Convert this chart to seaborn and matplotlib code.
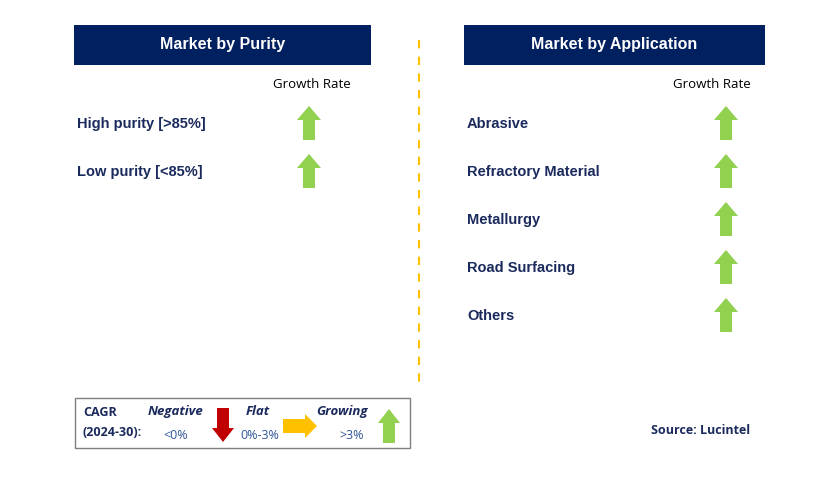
import matplotlib
matplotlib.use("Agg")
import matplotlib.pyplot as plt
import seaborn as sns
import pandas as pd
from matplotlib.patches import Polygon, Rectangle

# data
purity_labels = ["High purity [>85%]", "Low purity [<85%]"]
purity_trend = ["up", "up"]
application_labels = ["Abrasive", "Refractory Material", "Metallurgy", "Road Surfacing", "Others"]
application_trend = ["up", "up", "up", "up", "up"]
legend_names = ["Negative", "Flat", "Growing"]
legend_ranges = ["<0%", "0%-3%", ">3%"]
legend_trend = ["down", "right", "up"]

NAVY = "#002060"
TEXT_NAVY = "#1b2a5c"
GREEN = "#92D050"
RED = "#C00000"
ORANGE = "#FFC000"
COLORS = {"up": GREEN, "down": RED, "right": ORANGE}

sns.set_theme(style="white")
plt.rcParams['font.family'] = ['Liberation Sans', 'DejaVu Sans']

fig = plt.figure(figsize=(8.29, 4.94), dpi=100)
ax = fig.add_axes([0, 0, 1, 1])
ax.set_xlim(0, 829)
ax.set_ylim(494, 0)
ax.axis("off")


def arrow(ax, cx, cy, direction, length=34, width=24, shaft=12, head=14):
    # simple block arrow centred on (cx, cy)
    h = length / 2
    w = width / 2
    s = shaft / 2
    if direction == "up":
        pts = [(cx - s, cy + h), (cx - s, cy - h + head), (cx - w, cy - h + head),
               (cx, cy - h), (cx + w, cy - h + head), (cx + s, cy - h + head), (cx + s, cy + h)]
    elif direction == "down":
        pts = [(cx - s, cy - h), (cx - s, cy + h - head), (cx - w, cy + h - head),
               (cx, cy + h), (cx + w, cy + h - head), (cx + s, cy + h - head), (cx + s, cy - h)]
    else:
        pts = [(cx - h, cy - s), (cx + h - head, cy - s), (cx + h - head, cy - w),
               (cx + h, cy), (cx + h - head, cy + w), (cx + h - head, cy + s), (cx - h, cy + s)]
    ax.add_patch(Polygon(pts, closed=True, color=COLORS[direction], lw=0))


def panel(ax, x0, x1, title, labels, trends, arrow_x, growth_x):
    ax.add_patch(Rectangle((x0, 25), x1 - x0, 40, color=NAVY, lw=0))
    ax.text((x0 + x1) / 2, 45, title, color="white", fontsize=11.5, fontweight="bold",
            ha="center", va="center")
    ax.text(growth_x, 85, "Growth Rate", color="black", fontsize=9.5,
            ha="center", va="center", family=["Open Sans", "DejaVu Sans"])
    df = pd.DataFrame({"label": labels, "trend": trends})
    for i, row in df.iterrows():
        y = 124 + i * 48
        ax.text(x0 + 3, y, row["label"], color=TEXT_NAVY, fontsize=10.5, fontweight="bold",
                ha="left", va="center")
        arrow(ax, arrow_x, y - 1, row["trend"])


panel(ax, 74, 371, "Market by Purity", purity_labels, purity_trend, 309, 312)
panel(ax, 464, 765, "Market by Application", application_labels, application_trend, 726, 712)

# divider
ax.plot([419, 419], [40, 382], color=ORANGE, lw=1.5, ls=(0, (4, 4)))

# legend box
ax.add_patch(Rectangle((75, 398), 335, 50, fill=False, ec="#7f7f7f", lw=1))
leg_font = ["Open Sans", "DejaVu Sans"]
ax.text(83, 412, "CAGR", color=TEXT_NAVY, fontsize=9, fontweight="bold", va="center", family=leg_font)
ax.text(83, 432, "(2024-30):", color=TEXT_NAVY, fontsize=9, fontweight="bold", va="center", family=leg_font)
name_x = [176, 258, 342]
range_x = [176, 260, 352]
arrow_pos = [(223, 425), (300, 426), (389, 426)]
for name, rng, tr, nx, rx, (axp, ayp) in zip(legend_names, legend_ranges, legend_trend,
                                              name_x, range_x, arrow_pos):
    ax.text(nx, 411, name, color=TEXT_NAVY, fontsize=9.5, fontweight="bold", style="italic",
            ha="center", va="center", family=leg_font)
    ax.text(rx, 435, rng, color="#2f5597", fontsize=9, ha="center", va="center", family=leg_font)
    if tr == "right":
        arrow(ax, axp, ayp, tr, length=34, width=24, shaft=14, head=12)
    else:
        arrow(ax, axp, ayp, tr, length=34, width=22, shaft=12, head=14)

ax.text(701, 430, "Source: Lucintel", color=TEXT_NAVY, fontsize=9, fontweight="bold",
        ha="center", va="center", family=leg_font)

fig.savefig("out.png", dpi=100)
